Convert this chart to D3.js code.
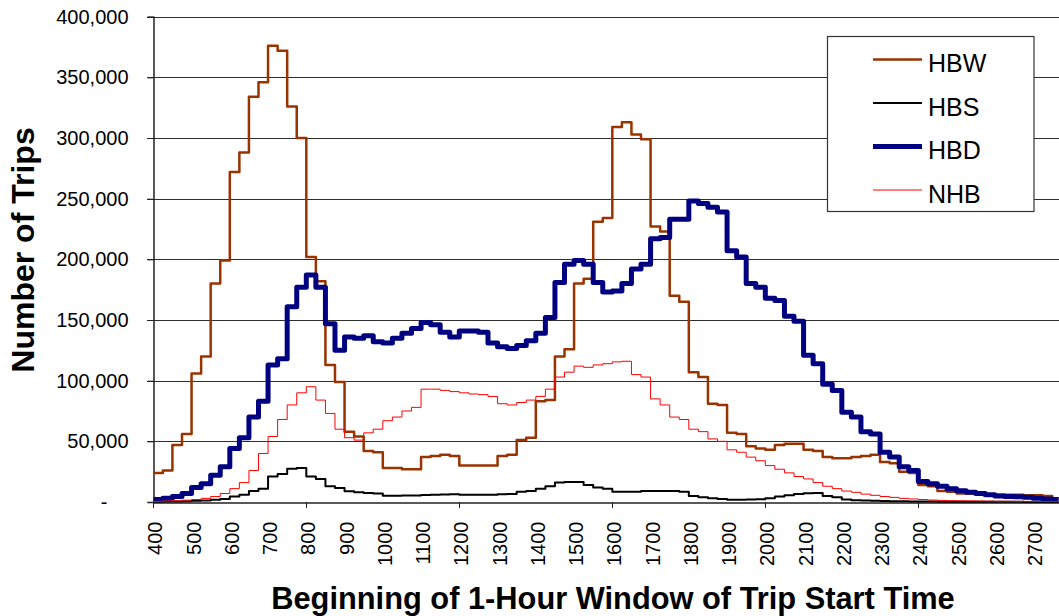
<!DOCTYPE html>
<html><head><meta charset="utf-8">
<script src="https://cdn.jsdelivr.net/npm/d3@7"></script>
<style>
html,body{margin:0;padding:0;background:#fff;}
svg{display:block;font-family:"Liberation Sans",Arial,sans-serif;}
</style></head>
<body><svg id="chart" width="1059" height="616"></svg>
<script>
// Time of window start in hours (4.00 = 4:00 ... 27.50 = 27:30), 15-minute categories
const times = d3.range(4, 27.5001, 0.25);
// Values in thousands of trips
const HBW = [24,26,47,56, 106,120,180,199, 272,288,334,346, 376,372,326,300,
  202,182,113,99, 58,54,42,41, 28,28,27,27, 37,38,39,38, 30,30,30,30, 38,39,51,53,
  83,84,120,126, 180,184,231,234, 309,313,303,299, 227,223,170,165, 107,103,81,80,
  57,56,46,44, 43,47,48,48, 43,42,37,36, 36,37,38,39, 33,32,25,24, 14,13,9,8.5,
  7,7,6.5,6, 6,6,6,5.5, 5.5,5,3];
const HBS = [0.3,0.4,0.5,0.7, 1,1.3,1.8,2.5, 4.5,6,9,11, 21,23,27.5,28, 21,19,13,11.5,
  8.8,8,7.4,7, 5.2,5.2,5.3,5.4, 5.8,6,6.2,6.3, 6,6,6,6, 6.3,6.6,8.5,9, 11,13,16,16.5,
  16.5,14,12,11, 8.5,8.5,8.5,9, 9,9,9,8.5, 5,4,3,2.5, 1.8,1.8,2,2.2, 3,4.5,5.5,6.5,
  7.2,7.5,5,4, 2,1.5,1.2,1, 0.8,0.7,0.6,0.5, 0.4,0.4,0.3,0.3, 0.3,0.2,0.2,0.2,
  0.2,0.2,0.2,0.1, 0.1,0.1,0.1];
const HBD = [2,3,4.5,7, 12,15,22,29, 44,53,70,83, 113,118,161,177, 187,177,147,125,
  136,135,137,132, 131,135,139,143, 148,146,140,136, 141,141,140,131, 128,126.5,129,133,
  139,152,181,196, 199,196,181,173, 174,180,192,196, 217,218,233,233, 248,246,243,239,
  207,202,180,177, 168,166,153,149, 121,114,97,92, 74,70,58,56, 41,37,29,26,
  17,15,13,11, 9.3,8,7,6, 5,4.5,4.4,4, 3,2.5,2];
const NHB = [0.5,0.8,1,1.5, 2,3,4.5,7, 11,16,26,40, 54,68,80,90, 95,84,73,60,
  53,51,57,60, 67,70,75,78, 93,93,92,91, 90,89,88.5,87, 81,80,82,84, 87,93,103,107,
  112,111,113,114, 115.5,116,105,103, 85,80,70,68, 60,58,52,50, 43,41,37,34,
  30,27,24,21, 19,16,13,11, 9,8,6.5,5.5, 4.5,3.8,3,2.5, 2,1.6,1.3,1.1,
  1,0.9,0.8,0.7, 0.6,0.6,0.5,0.5, 0.4,0.4,0.3];
const seriesNames = ["HBW","HBS","HBD","NHB"];
const seriesColors = ["#993300","#000000","#000080","#FF0000"];
const seriesWidths = [2.5, 2, 5, 1];
const xTickLabels = ["400","500","600","700","800","900","1000","1100","1200","1300","1400","1500",
  "1600","1700","1800","1900","2000","2100","2200","2300","2400","2500","2600","2700"];
const yTicks = [0,50,100,150,200,250,300,350,400];
const xEnd = 27.667;

const svg = d3.select("#chart");
const M = {left:153.3, right:1058.6, top:16.7, bottom:502};
const x = d3.scaleLinear().domain([4, xEnd]).range([M.left, M.right]);
const y = d3.scaleLinear().domain([0, 400]).range([M.bottom, M.top]);

// gridlines
svg.append("g").selectAll("line").data(yTicks.filter(d=>d>0)).join("line")
  .attr("x1", M.left-6).attr("x2", 1059)
  .attr("y1", d=>Math.round(y(d))+0.5).attr("y2", d=>Math.round(y(d))+0.5)
  .attr("stroke", "#2e2e2e").attr("stroke-width", 1).attr("shape-rendering","crispEdges");

// y axis
const yAxis = svg.append("g").attr("transform", `translate(${Math.round(M.left)+0.5},0)`)
  .call(d3.axisLeft(y).tickValues(yTicks).tickSize(6).tickPadding(19)
    .tickFormat(d => d===0 ? "-" : d3.format(",")(d*1000)));
yAxis.select(".domain").attr("stroke","#222").attr("stroke-width",1.5);
yAxis.selectAll(".tick line").attr("stroke","#222");
yAxis.selectAll(".tick text").attr("font-size", 20).attr("fill","#000")
  .attr("font-family","Liberation Sans, Arial, sans-serif");
yAxis.selectAll(".tick").filter(d=>d===0).select("text").attr("dx", -21);

// x axis
const xLabelVals = xTickLabels.map(s => +s/100);
const xAxis = svg.append("g").attr("transform", `translate(0,${M.bottom+0.5})`)
  .call(d3.axisBottom(x).tickValues(xLabelVals).tickSize(0).tickFormat((d,i)=>xTickLabels[i]));
xAxis.select(".domain").attr("stroke","#222").attr("stroke-width",1.5);
xAxis.selectAll(".tick text")
  .attr("font-size", 20).attr("fill","#000")
  .attr("font-family","Liberation Sans, Arial, sans-serif")
  .attr("text-anchor","end").attr("dominant-baseline","central")
  .attr("dy", null).attr("y", 0)
  .attr("transform", "translate(1.5,19) rotate(-90)");
// major ticks every 4 hours
svg.append("g").selectAll("line").data([4,8,12,16,20,24]).join("line")
  .attr("x1", d=>Math.round(x(d))+0.5).attr("x2", d=>Math.round(x(d))+0.5)
  .attr("y1", M.bottom).attr("y2", M.bottom+6)
  .attr("stroke","#222").attr("stroke-width",1);

// series
const seriesData = [HBW, HBS, HBD, NHB];
const line = d3.line().x(d=>x(d[0])).y(d=>y(d[1])).curve(d3.curveStepAfter);
const clip = svg.append("clipPath").attr("id","clip").append("rect")
  .attr("x", M.left).attr("y", 0).attr("width", 1059-M.left).attr("height", M.bottom+3);
const gS = svg.append("g").attr("clip-path","url(#clip)");
seriesData.forEach((vals, i) => {
  const pts = times.map((t, j) => [t, vals[j]]);
  pts.push([xEnd, vals[vals.length-1]]);
  gS.append("path").attr("d", line(pts)).attr("fill","none")
    .attr("stroke", seriesColors[i]).attr("stroke-width", seriesWidths[i])
    .attr("stroke-linejoin","round").attr("stroke-linecap","butt");
});

// legend
const lg = svg.append("g");
lg.append("rect").attr("x", 827.5).attr("y", 36.5).attr("width", 206.5).attr("height", 175)
  .attr("fill","#fff").attr("stroke","#333").attr("stroke-width",1.2);
seriesNames.forEach((n, i) => {
  const ly = 59.5 + i*43.5;
  lg.append("line").attr("x1", 873).attr("x2", 922).attr("y1", ly).attr("y2", ly)
    .attr("stroke", seriesColors[i]).attr("stroke-width", seriesWidths[i]);
  lg.append("text").attr("x", 928).attr("y", ly + 12.5).attr("font-size", 25)
    .attr("fill","#000").text(n);
});

// axis titles
svg.append("text").attr("x", 613).attr("y", 609).attr("text-anchor","middle")
  .attr("font-size", 30.8).attr("font-weight","bold").attr("fill","#000")
  .text("Beginning of 1-Hour Window of Trip Start Time");
svg.append("text").attr("transform","translate(34,250) rotate(-90)").attr("text-anchor","middle")
  .attr("font-size", 32).attr("font-weight","bold").attr("fill","#000")
  .text("Number of Trips");
</script></body></html>
